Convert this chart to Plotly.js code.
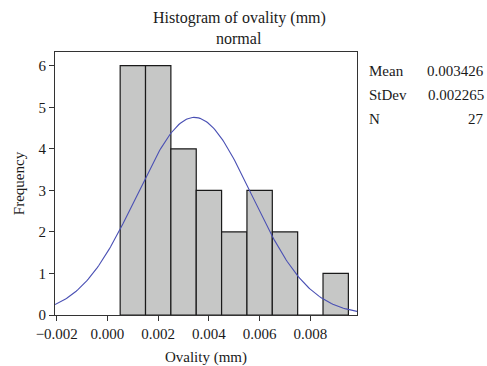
<!DOCTYPE html>
<html>
<head>
<meta charset="utf-8">
<script src="https://cdn.plot.ly/plotly-3.0.1.min.js"></script>
<style>html,body{margin:0;padding:0;background:#fff;}#chart{width:487px;height:366px;}</style>
</head>
<body>
<div id="chart"></div>
<script>
// Histogram bins (centers, mm) and counts
const binCenters = [0.001, 0.002, 0.003, 0.004, 0.005, 0.006, 0.007, 0.008, 0.009];
const binCounts  = [6, 6, 4, 3, 2, 3, 2, 0, 1];
const binWidth = 0.001;

// Fitted normal statistics shown in the legend box
const statLabels = ["Mean", "StDev", "N"];
const statValues = ["0.003426", "0.002265", "27"];
const fitMean = 0.003426;
const fitSd = 0.002265;
const fitN = 27;

// Tick labels
const xTickVals = [-0.002, 0, 0.002, 0.004, 0.006, 0.008];
const xTickText = ["\u22120.002", "0.000", "0.002", "0.004", "0.006", "0.008"];
const yTickVals = [0, 1, 2, 3, 4, 5, 6];

const xRange = [-0.00207, 0.00984];
const yRange = [0, 6.33];

// Normal fit curve scaled to counts (N * bin width * pdf)
const curveX = [], curveY = [];
const steps = 200;
for (let i = 0; i <= steps; i++) {
  const x = xRange[0] + (xRange[1] - xRange[0]) * i / steps;
  const z = (x - fitMean) / fitSd;
  curveX.push(x);
  curveY.push(fitN * binWidth * Math.exp(-0.5 * z * z) / (fitSd * Math.sqrt(2 * Math.PI)));
}

const font = {family: "Liberation Serif, Times New Roman, serif", size: 15, color: "#1a1a1a"};
const titleFont = {family: "Liberation Serif, Times New Roman, serif", size: 16, color: "#1a1a1a"};

const traces = [
  {
    type: "bar",
    x: binCenters,
    y: binCounts,
    width: binCenters.map(() => binWidth),
    marker: {color: "#c6c7c6", line: {color: "#1a1a1a", width: 1.2}},
    hoverinfo: "x+y"
  },
  {
    type: "scatter",
    mode: "lines",
    x: curveX,
    y: curveY,
    line: {color: "#4a50b4", width: 1.1},
    hoverinfo: "skip"
  }
];

const L = 55, R = 130, T = 52, B = 51;
const plotH = 366 - T - B;
const plotW = 487 - L - R;
function py(px) { return (366 - B - px) / plotH; }
function pxx(px) { return (px - L) / plotW; }

const annotations = [
  {text: "Histogram of ovality (mm)", xref: "paper", yref: "paper", x: pxx(239), y: py(18), xanchor: "center", yanchor: "middle", showarrow: false, font: titleFont},
  {text: "normal", xref: "paper", yref: "paper", x: pxx(239), y: py(39), xanchor: "center", yanchor: "middle", showarrow: false, font: titleFont}
];
const statY = [71, 95, 119];
statLabels.forEach((lab, i) => {
  annotations.push({text: lab, xref: "paper", yref: "paper", x: pxx(367), y: py(statY[i]), xanchor: "left", yanchor: "middle", showarrow: false, font: font});
  annotations.push({text: statValues[i], xref: "paper", yref: "paper", x: pxx(486), y: py(statY[i]), xanchor: "right", yanchor: "middle", showarrow: false, font: font});
});

const layout = {
  width: 487, height: 366,
  margin: {l: L, r: R, t: T, b: B, pad: 0},
  paper_bgcolor: "#ffffff",
  plot_bgcolor: "#ffffff",
  showlegend: false,
  bargap: 0,
  font: font,
  xaxis: {
    range: xRange,
    tickvals: xTickVals,
    ticktext: xTickText,
    ticks: "outside", ticklen: 5, tickwidth: 1, tickcolor: "#333",
    showline: true, linecolor: "#333", linewidth: 1, mirror: true,
    showgrid: false, zeroline: false,
    tickfont: font,
    title: {text: "Ovality (mm)", font: font, standoff: 10}
  },
  yaxis: {
    range: yRange,
    tickvals: yTickVals,
    ticks: "outside", ticklen: 5, tickwidth: 1, tickcolor: "#333",
    showline: true, linecolor: "#333", linewidth: 1, mirror: true,
    showgrid: false, zeroline: false,
    tickfont: font,
    title: {text: "Frequency", font: font, standoff: 10}
  },
  annotations: annotations
};

Plotly.newPlot("chart", traces, layout, {displayModeBar: false, staticPlot: true});
</script>
</body>
</html>
